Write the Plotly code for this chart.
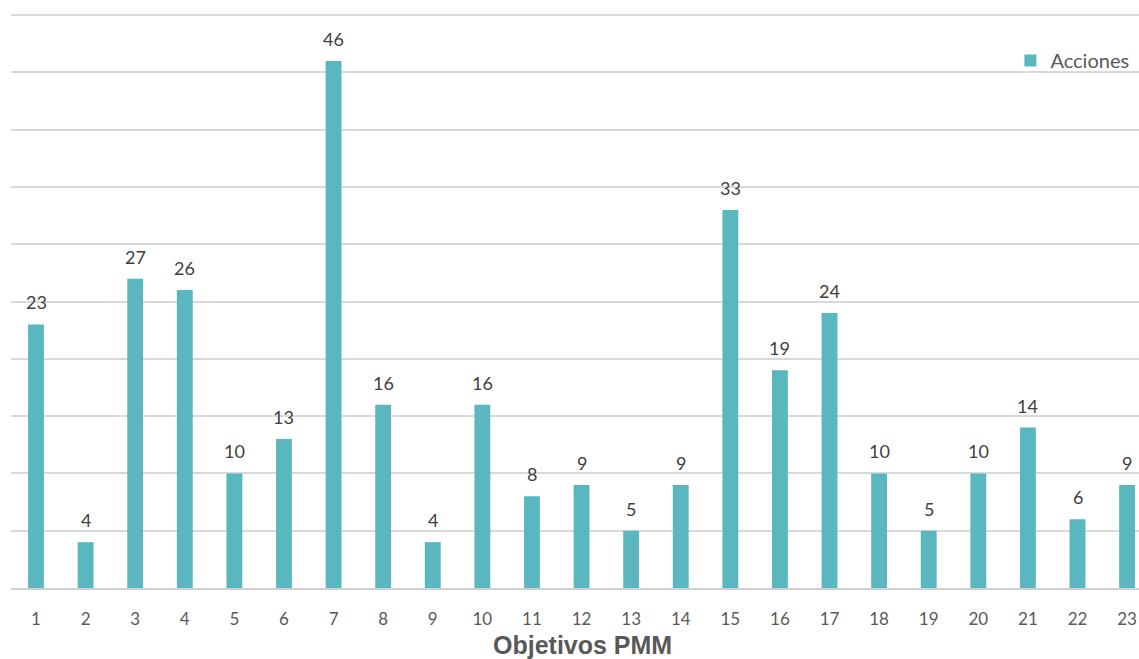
import plotly.graph_objects as go

categories = list(range(1, 24))
acciones = [23, 4, 27, 26, 10, 13, 46, 16, 4, 16, 8, 9, 5, 9, 33, 19, 24, 10, 5, 10, 14, 6, 9]
tick_labels = [str(c) for c in categories]

fig = go.Figure()
fig.add_trace(go.Bar(
    x=categories, y=acciones, name="Acciones",
    marker=dict(color="#5AB7C0", line=dict(width=0)),
))

label_annotations = [
    dict(x=c, y=v, xref="x", yref="y", text=str(v), showarrow=False,
         yanchor="bottom", xanchor="center", yshift=9,
         font=dict(family="Lato, Open Sans, sans-serif", size=18, color="#404040"))
    for c, v in zip(categories, acciones)
]

fig.update_layout(
    width=1139, height=659,
    margin=dict(l=11, r=0, t=14, b=71),
    paper_bgcolor="white", plot_bgcolor="white",
    bargap=0.68,
    showlegend=True,
    legend=dict(x=0.886, y=0.919, xanchor="left", yanchor="middle",
                font=dict(family="Lato, Open Sans, sans-serif", size=20, color="#595959"),
                bgcolor="rgba(0,0,0,0)", itemwidth=30),
    xaxis=dict(
        range=[0.496, 23.24], tickmode="array", tickvals=categories, ticktext=tick_labels,
        showgrid=False, zeroline=False, showline=True, linecolor="#D0D0D0", linewidth=2,
        ticks="", ticklabelstandoff=15,
        tickfont=dict(family="Lato, Open Sans, sans-serif", size=17, color="#595959"),
    ),
    yaxis=dict(
        range=[0, 50.1], tickmode="array", tickvals=[0, 5, 10, 15, 20, 25, 30, 35, 40, 45, 50],
        showticklabels=False, showgrid=True,
        gridcolor="#D9D9D9", gridwidth=1.5, zeroline=False, ticks="",
    ),
    annotations=label_annotations + [dict(
        text="<b>Objetivos PMM</b>", xref="paper", yref="paper",
        x=0.507, y=-0.1, xanchor="center", yanchor="middle", showarrow=False,
        font=dict(family="Liberation Sans, Arial, sans-serif", size=25, color="#595959"),
    )],
)

fig.write_html("out.html", config={"displayModeBar": False},
               post_script="document.body.style.margin='0';document.body.style.overflow='hidden';")
